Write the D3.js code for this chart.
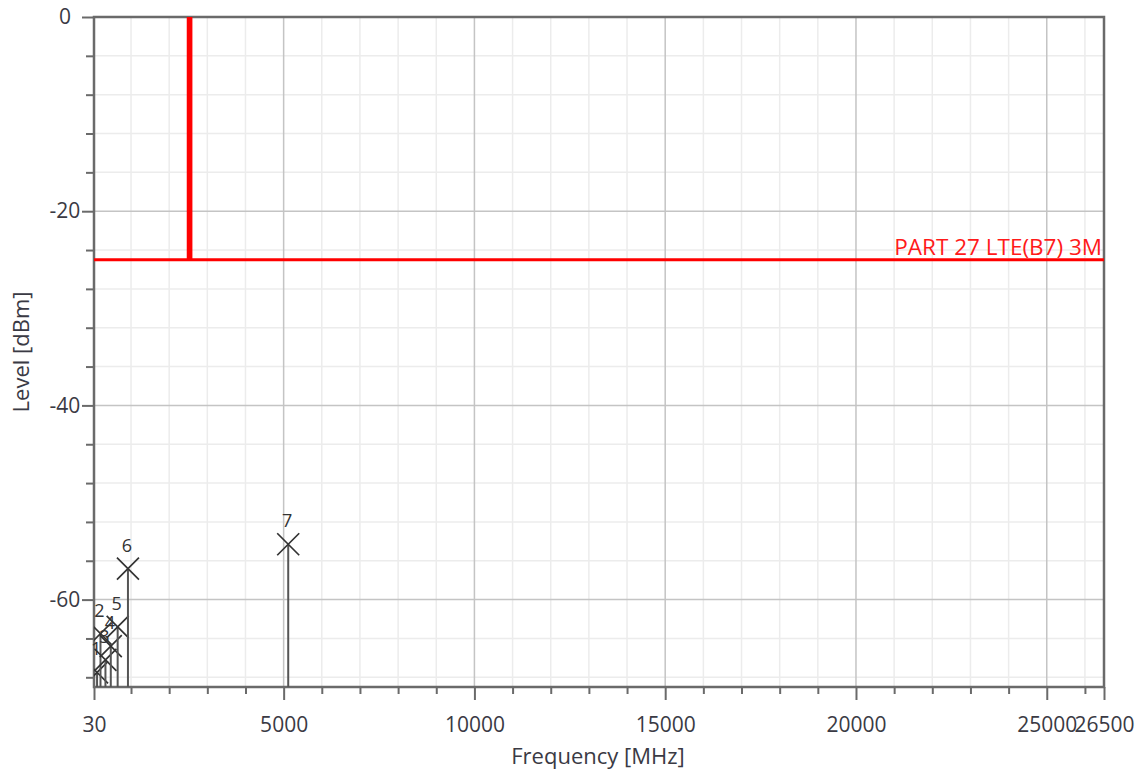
<!DOCTYPE html>
<html>
<head>
<meta charset="utf-8">
<script src="https://cdn.jsdelivr.net/npm/d3@7"></script>
<style>
  html, body { margin: 0; padding: 0; background: #fff; }
  svg { display: block; }
  text { font-family: "Open Sans", "Noto Sans", sans-serif; }
</style>
</head>
<body>
<svg id="chart" width="1141" height="774"></svg>
<script>
// ---- data ----
const xDomain = [30, 26500];
const yDomain = [-69, 0];
const xMajorTicks = [30, 5000, 10000, 15000, 20000, 25000, 26500];
const xMinorTicks = [1000, 2000, 3000, 4000, 6000, 7000, 8000, 9000, 11000, 12000, 13000, 14000,
                     16000, 17000, 18000, 19000, 21000, 22000, 23000, 24000, 26000];
const yMajorTicks = [0, -20, -40, -60];
const yMinorTicks = [-4, -8, -12, -16, -24, -28, -32, -36, -44, -48, -52, -56, -64, -68];

const limitFreq  = [30, 2500, 2500, 2570, 2570, 26500];
const limitLevel = [-25, -25, 10, 10, -25, -25];
const limitLabel = "PART 27 LTE(B7) 3M";

const markerIds   = ["1", "2", "3", "4", "5", "6", "7"];
const markerFreq  = [110, 200, 330, 470, 650, 920, 5120];
const markerLevel = [-67.5, -63.5, -66.2, -64.8, -62.8, -56.8, -54.3];

const xTitle = "Frequency [MHz]";
const yTitle = "Level [dBm]";

// ---- layout ----
const svg = d3.select("#chart");
const L = 94, R = 1104, T = 17, B = 687;
const x = d3.scaleLinear().domain(xDomain).range([L, R]);
const y = d3.scaleLinear().domain(yDomain).range([B, T]);
const fmt = d => String(d);

svg.append("defs").append("clipPath").attr("id", "plotclip")
  .append("rect").attr("x", L).attr("y", T).attr("width", R - L).attr("height", B - T);

// minor grid
const grid = svg.append("g");
grid.selectAll(".vmin").data(xMinorTicks).enter().append("line")
  .attr("x1", d => x(d)).attr("x2", d => x(d)).attr("y1", T).attr("y2", B)
  .attr("stroke", "#ececec").attr("stroke-width", 1.5);
grid.selectAll(".hmin").data(yMinorTicks).enter().append("line")
  .attr("x1", L).attr("x2", R).attr("y1", d => y(d)).attr("y2", d => y(d))
  .attr("stroke", "#ececec").attr("stroke-width", 1.5);
// major grid
grid.selectAll(".vmaj").data(xMajorTicks.slice(1, -1)).enter().append("line")
  .attr("x1", d => x(d)).attr("x2", d => x(d)).attr("y1", T).attr("y2", B)
  .attr("stroke", "#c4c4c4").attr("stroke-width", 1.5);
grid.selectAll(".hmaj").data(yMajorTicks.slice(1)).enter().append("line")
  .attr("x1", L).attr("x2", R).attr("y1", d => y(d)).attr("y2", d => y(d))
  .attr("stroke", "#c4c4c4").attr("stroke-width", 1.5);

// axes with d3 axis generators
const axisColor = "#6a6a6a";
const xAxisMajor = svg.append("g").attr("transform", `translate(0,${B})`)
  .call(d3.axisBottom(x).tickValues(xMajorTicks).tickSize(13).tickPadding(17).tickFormat(fmt));
const xAxisMinor = svg.append("g").attr("transform", `translate(0,${B})`)
  .call(d3.axisBottom(x).tickValues(xMinorTicks).tickSize(7).tickFormat(""));
const yAxisMajor = svg.append("g").attr("transform", `translate(${L},0)`)
  .call(d3.axisLeft(y).tickValues(yMajorTicks).tickSize(12).tickPadding(0).tickFormat(fmt));
const yAxisMinor = svg.append("g").attr("transform", `translate(${L},0)`)
  .call(d3.axisLeft(y).tickValues(yMinorTicks).tickSize(8).tickFormat(""));

[xAxisMajor, xAxisMinor, yAxisMajor, yAxisMinor].forEach(g => {
  g.select(".domain").remove();
  g.selectAll(".tick line").attr("stroke", axisColor).attr("stroke-width", 2);
});
xAxisMajor.selectAll(".tick text")
  .attr("font-size", 21).attr("fill", "#3a3a44").attr("dy", "0.71em");
yAxisMajor.selectAll(".tick text")
  .attr("font-size", 21).attr("fill", "#3a3a44")
  .attr("text-anchor", "middle").attr("x", -29);

// frame
svg.append("rect").attr("x", L).attr("y", T).attr("width", R - L).attr("height", B - T)
  .attr("fill", "none").attr("stroke", axisColor).attr("stroke-width", 2.5);

// limit line
const plot = svg.append("g").attr("clip-path", "url(#plotclip)");
const limitData = limitFreq.map((f, i) => [f, limitLevel[i]]);
plot.append("path").datum(limitData)
  .attr("d", d3.line().x(d => x(d[0])).y(d => y(d[1])))
  .attr("fill", "none").attr("stroke", "#ff0000").attr("stroke-width", 3);
svg.append("text").attr("x", R - 2).attr("y", y(-25) - 5)
  .attr("text-anchor", "end").attr("font-size", 22.5).attr("fill", "#ff1a1a")
  .attr("font-family", "'DejaVu Sans Condensed', 'DejaVu Sans', sans-serif")
  .text(limitLabel);

// markers
const markers = markerIds.map((id, i) => ({id, f: markerFreq[i], v: markerLevel[i]}));
const mg = plot.selectAll(".mk").data(markers).enter().append("g");
mg.append("line")
  .attr("x1", d => x(d.f)).attr("x2", d => x(d.f))
  .attr("y1", d => y(d.v)).attr("y2", B)
  .attr("stroke", "#555").attr("stroke-width", 2);
const s = 11;
mg.append("path")
  .attr("d", d => `M${x(d.f)-s},${y(d.v)-s}L${x(d.f)+s},${y(d.v)+s}M${x(d.f)-s},${y(d.v)+s}L${x(d.f)+s},${y(d.v)-s}`)
  .attr("stroke", "#333").attr("stroke-width", 1.7).attr("fill", "none");
svg.selectAll(".mlabel").data(markers).enter().append("text")
  .attr("x", d => x(d.f) - 1).attr("y", d => y(d.v) - 17)
  .attr("text-anchor", "middle").attr("font-size", 18).attr("fill", "#333")
  .text(d => d.id);

// axis titles
svg.append("text").attr("x", 598).attr("y", 764)
  .attr("text-anchor", "middle").attr("font-size", 22).attr("fill", "#3a3a44")
  .text(xTitle);
svg.append("text").attr("transform", `translate(29,352) rotate(-90)`)
  .attr("text-anchor", "middle").attr("font-size", 22).attr("fill", "#3a3a44")
  .text(yTitle);
</script>
</body>
</html>
